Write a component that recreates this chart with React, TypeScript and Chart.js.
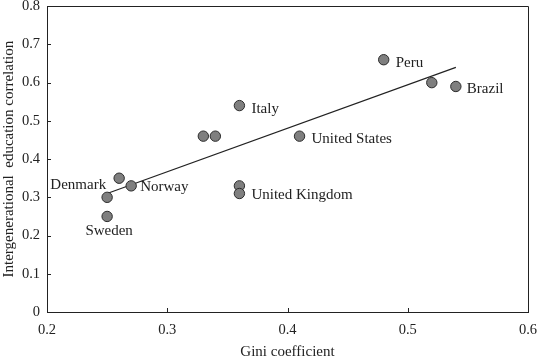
import React, { useEffect, useRef } from "react";
import { Chart, registerables } from "chart.js";

Chart.register(...registerables);

// ---- data ----
const giniValues = [0.25, 0.26, 0.27, 0.25, 0.33, 0.34, 0.36, 0.36, 0.36, 0.41, 0.48, 0.52, 0.54];
const educationCorr = [0.30, 0.35, 0.33, 0.25, 0.46, 0.46, 0.54, 0.33, 0.31, 0.46, 0.66, 0.60, 0.59];
const countryNames = ["Denmark", "", "Norway", "Sweden", "", "", "Italy", "", "United Kingdom", "United States", "Peru", "", "Brazil"];
const trendX = [0.25, 0.54];
const trendY = [0.31, 0.64];
const xTickLabels = ["0.2", "0.3", "0.4", "0.5", "0.6"];
const yTickLabels = ["0", "0.1", "0.2", "0.3", "0.4", "0.5", "0.6", "0.7", "0.8"];
const xTitle = "Gini coefficient";
const yTitle = "Intergenerational  education correlation";

// label placement (pixel offsets from the point; styling only)
const labelPlacement: Record<string, { dx: number; dy: number; align: CanvasTextAlign }> = {
  Denmark: { dx: -1, dy: -12, align: "right" },
  Norway: { dx: 9, dy: 1, align: "left" },
  Sweden: { dx: 2, dy: 15, align: "center" },
  Italy: { dx: 12, dy: 3, align: "left" },
  "United Kingdom": { dx: 12, dy: 2, align: "left" },
  "United States": { dx: 12, dy: 3, align: "left" },
  Peru: { dx: 12, dy: 3, align: "left" },
  Brazil: { dx: 11, dy: 3, align: "left" },
};

const FONT = "'Liberation Serif', 'Times New Roman', serif";
const INK = "#222";

const decorPlugin = {
  id: "decor",
  afterDatasetsDraw(chart: any) {
    const { ctx, chartArea, scales } = chart;
    const xs = scales.x;
    const ys = scales.y;
    ctx.save();
    // box
    ctx.strokeStyle = INK;
    ctx.lineWidth = 1;
    ctx.beginPath();
    ctx.moveTo(Math.round(chartArea.left) + 0.5, Math.round(chartArea.top) + 0.5);
    ctx.lineTo(Math.round(chartArea.right) + 0.5, Math.round(chartArea.top) + 0.5);
    ctx.lineTo(Math.round(chartArea.right) + 0.5, Math.round(chartArea.bottom) + 0.5);
    ctx.stroke();
    // inward ticks
    ctx.beginPath();
    xs.ticks.forEach((t: any) => {
      const px = Math.round(xs.getPixelForValue(t.value)) + 0.5;
      ctx.moveTo(px, chartArea.bottom);
      ctx.lineTo(px, chartArea.bottom - 4);
    });
    ys.ticks.forEach((t: any) => {
      const py = Math.round(ys.getPixelForValue(t.value)) + 0.5;
      ctx.moveTo(chartArea.left, py);
      ctx.lineTo(chartArea.left + 4, py);
    });
    ctx.stroke();
    // point labels
    ctx.fillStyle = INK;
    ctx.font = `15px ${FONT}`;
    ctx.textBaseline = "middle";
    countryNames.forEach((name, i) => {
      if (!name) return;
      const p = labelPlacement[name];
      const px = xs.getPixelForValue(giniValues[i]);
      const py = ys.getPixelForValue(educationCorr[i]);
      ctx.textAlign = p.align;
      ctx.fillText(name, px + p.dx, py + p.dy);
    });
    ctx.restore();
  },
};

export default function App() {
  const canvasRef = useRef<HTMLCanvasElement | null>(null);

  useEffect(() => {
    document.body.style.margin = "0";
    const canvas = canvasRef.current;
    if (!canvas) return;
    const chart = new Chart(canvas, {
      type: "scatter",
      data: {
        datasets: [
          {
            type: "scatter",
            data: giniValues.map((x, i) => ({ x, y: educationCorr[i] })),
            backgroundColor: "#7f7f7f",
            borderColor: "#2b2b2b",
            borderWidth: 1,
            pointRadius: 5.2,
            pointHoverRadius: 5.2,
            order: 1,
          },
          {
            type: "line",
            data: trendX.map((x, i) => ({ x, y: trendY[i] })),
            borderColor: INK,
            borderWidth: 1.2,
            pointRadius: 0,
            fill: false,
            order: 2,
          } as any,
        ],
      },
      options: {
        animation: false,
        responsive: false,
        maintainAspectRatio: false,
        layout: { padding: { top: 3, right: 9, left: 0, bottom: 0 } },
        plugins: { legend: { display: false }, tooltip: { enabled: false } },
        scales: {
          x: {
            type: "linear",
            min: 0.2,
            max: 0.6,
            afterBuildTicks: (s: any) => {
              s.ticks = xTickLabels.map((l) => ({ value: parseFloat(l) }));
            },
            ticks: {
              callback: (v: any) => xTickLabels.find((l) => Math.abs(parseFloat(l) - v) < 1e-9) ?? "",
              color: INK,
              font: { family: FONT, size: 14.5 },
              padding: 9,
              maxRotation: 0,
            },
            grid: { display: true, drawOnChartArea: false, drawTicks: false },
            border: { display: true, color: INK, width: 1 },
            title: {
              display: true,
              text: xTitle,
              color: INK,
              font: { family: FONT, size: 15, lineHeight: 1 },
              padding: { top: -2, bottom: 0 },
            },
            afterFit: (s: any) => {
              s.height = 48;
              s.paddingLeft = 0;
              s.paddingRight = 0;
            },
          },
          y: {
            type: "linear",
            min: 0,
            max: 0.8,
            afterBuildTicks: (s: any) => {
              s.ticks = yTickLabels.map((l) => ({ value: parseFloat(l) }));
            },
            ticks: {
              callback: (v: any) => yTickLabels.find((l) => Math.abs(parseFloat(l) - v) < 1e-9) ?? "",
              color: INK,
              font: { family: FONT, size: 14.5 },
              padding: 7,
            },
            grid: { display: true, drawOnChartArea: false, drawTicks: false },
            border: { display: true, color: INK, width: 1 },
            title: {
              display: true,
              text: yTitle,
              color: INK,
              font: { family: FONT, size: 15, lineHeight: 1 },
              padding: { top: 2, bottom: 0 },
            },
            afterFit: (s: any) => {
              s.width = 47;
              s.paddingTop = 0;
              s.paddingBottom = 0;
            },
          },
        },
      },
      plugins: [decorPlugin],
    });
    return () => chart.destroy();
  }, []);

  return (
    <div style={{ width: 537, height: 360, background: "#fff" }}>
      <canvas ref={canvasRef} width={537} height={360} style={{ display: "block" }} />
    </div>
  );
}
